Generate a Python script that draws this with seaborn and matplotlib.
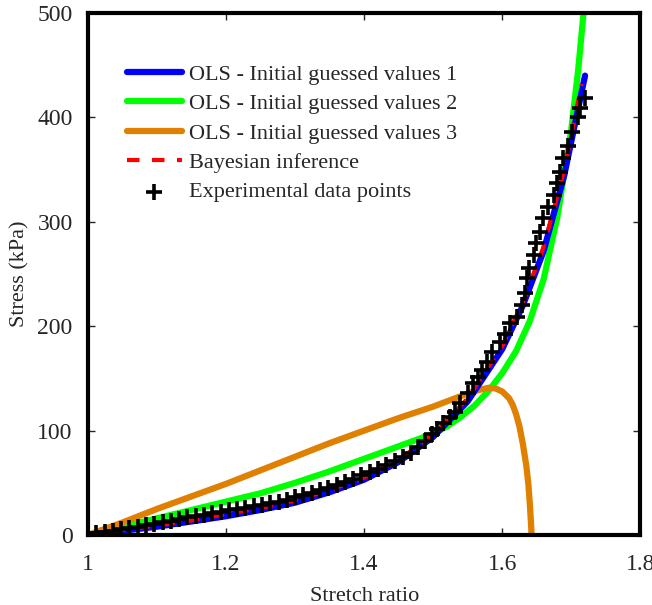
import numpy as np
import pandas as pd
import seaborn as sns
import matplotlib.pyplot as plt

# Experimental data (stretch ratio, stress in kPa)
exp_stretch = [1.000, 1.012, 1.024, 1.036, 1.048, 1.060, 1.072, 1.084, 1.096, 1.108,
               1.120, 1.132, 1.144, 1.156, 1.168, 1.180, 1.192, 1.204, 1.216, 1.228,
               1.240, 1.252, 1.264, 1.276, 1.288, 1.300, 1.312, 1.324, 1.336, 1.348,
               1.360, 1.372, 1.384, 1.396, 1.408, 1.420, 1.432, 1.444, 1.456, 1.468,
               1.478, 1.488, 1.498, 1.506, 1.514, 1.524, 1.532, 1.539, 1.551, 1.558,
               1.565, 1.571, 1.578, 1.585, 1.597, 1.604, 1.612, 1.622, 1.629, 1.633,
               1.636, 1.639, 1.646, 1.649, 1.655, 1.659, 1.667, 1.675, 1.679, 1.684,
               1.688, 1.696, 1.701, 1.710, 1.712, 1.720]
exp_stress = [0, 2, 3, 4, 5.5, 7, 8, 9.5, 11, 12,
              13.5, 15, 17, 18, 19.5, 21, 22, 23.5, 25, 26,
              27.5, 29, 30.5, 32, 34, 36, 38, 40.5, 43, 45.5,
              48, 51, 54, 57, 60, 63, 67, 71, 75, 79,
              84, 90, 97, 102, 107, 113, 118, 126, 136, 146,
              151, 158, 166, 175, 185, 193, 203, 209, 220, 232,
              246, 256, 268, 280, 290, 304, 314, 326, 337, 348,
              361, 373, 386, 400, 409, 419]

# OLS fit, initial guessed values 1
ols1_stretch = [1.00, 1.05, 1.10, 1.15, 1.20, 1.25, 1.30, 1.35, 1.40, 1.45,
                1.50, 1.55, 1.60, 1.63, 1.66, 1.69, 1.72]
ols1_stress = [0, 4, 8, 13, 18, 24, 31, 41, 53, 70,
               94, 128, 178, 220, 272, 345, 440]

# OLS fit, initial guessed values 2
ols2_stretch = [1.00, 1.05, 1.10, 1.15, 1.20, 1.25, 1.30, 1.35, 1.40, 1.45,
                1.50, 1.52, 1.54, 1.56, 1.58, 1.60, 1.62, 1.64, 1.66, 1.68,
                1.70, 1.71, 1.72]
ols2_stress = [0, 8, 16, 24, 32, 40, 50, 61, 73, 85,
               97, 104, 113, 124, 138, 155, 176, 205, 245, 305,
               388, 445, 515]

# OLS fit, initial guessed values 3
ols3_stretch = [1.00, 1.05, 1.10, 1.15, 1.20, 1.25, 1.30, 1.35, 1.40, 1.45,
                1.50, 1.54, 1.56, 1.58, 1.59, 1.60, 1.61, 1.615, 1.62, 1.625,
                1.63, 1.635, 1.638, 1.64, 1.642, 1.6425]
ols3_stress = [0, 12, 25, 37, 49, 62, 75, 88, 100, 112,
               123, 133, 138, 141, 140.5, 137.5, 131, 125, 116, 104,
               87, 66, 48, 30, 8, 0]

# Bayesian inference
bayes_stretch = [1.00, 1.05, 1.10, 1.15, 1.20, 1.25, 1.30, 1.35, 1.40, 1.45,
                 1.50, 1.55, 1.60, 1.63, 1.66, 1.69, 1.715]
bayes_stress = [0, 5, 9, 14, 20, 26, 33, 43, 55, 72,
                96, 131, 181, 223, 276, 350, 432]

sns.set_style("ticks")
plt.rcParams['font.family'] = ['Liberation Serif', 'DejaVu Serif']

fig = plt.figure(figsize=(6.52, 6.05), dpi=100)
ax = fig.add_axes([0.135, 0.1157, 0.847, 0.8628])

lw = 4.5
sns.lineplot(x=ols2_stretch, y=ols2_stress, color="#00ff00", lw=lw, ax=ax,
             label="OLS - Initial guessed values 2")
sns.lineplot(x=ols3_stretch, y=ols3_stress, color="#e08000", lw=lw, ax=ax,
             label="OLS - Initial guessed values 3")
sns.lineplot(x=ols1_stretch, y=ols1_stress, color="#0000ff", lw=lw, ax=ax,
             label="OLS - Initial guessed values 1")
sns.lineplot(x=bayes_stretch, y=bayes_stress, color="#ff0000", lw=3, ax=ax,
             label="Bayesian inference")
ax.lines[-1].set_dashes((3, 3))
sns.scatterplot(x=exp_stretch, y=exp_stress, marker="+", s=130, linewidth=2.6,
                color="black", ax=ax, zorder=5, label="Experimental data points")

ax.set_xlim(1, 1.8)
ax.set_ylim(0, 500)
ax.set_xticks([1, 1.2, 1.4, 1.6, 1.8])
ax.set_xticklabels(["1", "1.2", "1.4", "1.6", "1.8"])
ax.set_yticks([0, 100, 200, 300, 400, 500])
ax.tick_params(direction="in", top=True, right=True, length=5, width=1,
               labelsize=17)
ax.tick_params(axis="x", pad=14)
ax.tick_params(axis="y", pad=11)
for sp in ax.spines.values():
    sp.set_linewidth(3)
    sp.set_color("black")

ax.set_xlabel("Stretch ratio", fontsize=16, labelpad=8)
ax.set_ylabel("Stress (kPa)", fontsize=16, labelpad=6)

handles, labels = ax.get_legend_handles_labels()
order = [2, 0, 1, 3, 4]
ax.legend([handles[i] for i in order], [labels[i] for i in order],
          loc="upper left", bbox_to_anchor=(0.07, 0.902), frameon=False,
          fontsize=16, handlelength=2.5, handletextpad=0.3, labelspacing=0.4,
          borderaxespad=0, borderpad=0)

fig.savefig("out.png", dpi=100)
